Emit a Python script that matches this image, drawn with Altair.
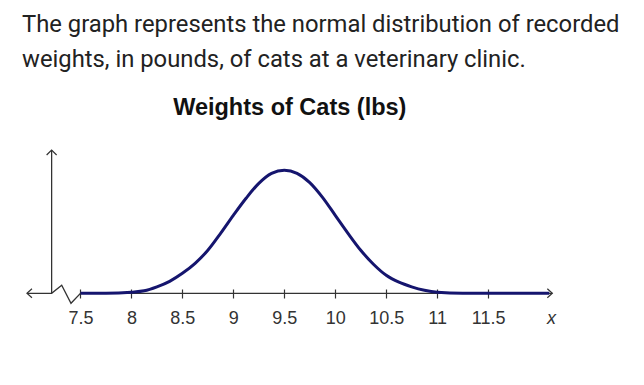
import altair as alt
import pandas as pd

# ---- data ----
intro_lines = [
    "The graph represents the normal distribution of recorded",
    "weights, in pounds, of cats at a veterinary clinic.",
]
chart_title = "Weights of Cats (lbs)"
tick_values = [7.5, 8, 8.5, 9, 9.5, 10, 10.5, 11, 11.5]

weights = [7.5, 7.75, 8.0, 8.125, 8.25, 8.375, 8.5, 8.625, 8.75, 8.875, 9.0,
           9.125, 9.25, 9.375, 9.5, 9.625, 9.75, 9.875, 10.0, 10.125, 10.25,
           10.375, 10.5, 10.625, 10.75, 10.875, 11.0, 11.25, 11.5, 11.75, 12.1]
density = [0.0, 0.0, 0.007, 0.016, 0.042, 0.078, 0.13, 0.195, 0.28, 0.39, 0.507,
           0.618, 0.715, 0.78, 0.8, 0.78, 0.72, 0.624, 0.507, 0.39, 0.28,
           0.189, 0.117, 0.072, 0.042, 0.02, 0.007, 0.0, 0.0, 0.0, 0.0]

# axis line with the break (zig-zag) near the origin
axis_x = [6.975, 7.217, 7.316, 7.407, 7.5, 12.13]
axis_y = [0.0, 0.0, 0.052, -0.065, 0.0, 0.0]
y_axis_x = 7.217
y_axis_top = 0.932

curve_df = pd.DataFrame({"x": weights, "y": density})
axis_df = pd.DataFrame({"x": axis_x, "y": axis_y, "i": list(range(len(axis_x)))})
yaxis_df = pd.DataFrame({"x": [y_axis_x], "y": [0.0], "y2": [y_axis_top]})
arrows_df = pd.DataFrame({
    "x": [axis_x[0], axis_x[-1], y_axis_x],
    "y": [0.0, 0.0, y_axis_top],
    "dir": ["left", "right", "up"],
})
dummy = pd.DataFrame({"a": [0]})

W, H = 628, 369
NAVY = "#15156e"
AX = "#333333"

xscale = alt.Scale(domain=[6.789, 12.951], nice=False, zero=False)
yscale = alt.Scale(domain=[-0.5444, 1.8556], nice=False, zero=False)
xaxis = alt.Axis(
    values=tick_values, format=".1~f", offset=-88, domain=False, grid=False,
    tickSize=9, tickColor=AX, tickWidth=1.2, labelPadding=11,
    labelFont="Liberation Sans", labelFontSize=18, labelColor=AX,
    title="x", titleFont="Liberation Sans", titleFontSize=18,
    titleFontWeight="normal", titleFontStyle="italic", titleColor=AX,
    titleX=543, titleY=34, titleAlign="center", titleBaseline="alphabetic",
)


def X(field="x"):
    return alt.X(field, type="quantitative", scale=xscale, axis=xaxis)


def Y(field="y"):
    return alt.Y(field, type="quantitative", scale=yscale, axis=None)


axis_line = alt.Chart(axis_df).mark_line(color=AX, strokeWidth=1.3).encode(
    x=X(), y=Y(), order="i:O"
)
y_axis = alt.Chart(yaxis_df).mark_rule(color=AX, strokeWidth=1.3).encode(
    x=X(), y=Y(), y2="y2"
)
left_arrow = alt.Chart(arrows_df[arrows_df.dir == "left"]).mark_point(
    shape="M 1 -0.9 L 0 0 L 1 0.9", filled=False, size=100, color=AX, strokeWidth=1.2, opacity=1
).encode(x=X(), y=Y())
right_arrow = alt.Chart(arrows_df[arrows_df.dir == "right"]).mark_point(
    shape="M -1 -0.9 L 0 0 L -1 0.9", filled=False, size=100, color=AX, strokeWidth=1.2, opacity=1
).encode(x=X(), y=Y())
up_arrow = alt.Chart(arrows_df[arrows_df.dir == "up"]).mark_point(
    shape="M -1 1 L 0 0 L 1 1", filled=False, size=100, color=AX, strokeWidth=1.2, opacity=1
).encode(x=X(), y=Y())

curve = alt.Chart(curve_df).mark_line(
    color=NAVY, strokeWidth=3, interpolate="monotone"
).encode(x=X(), y=Y())

intro = alt.Chart(dummy).mark_text(
    text=intro_lines, align="left", baseline="alphabetic", font="Roboto",
    fontSize=23.8, lineHeight=34.5, color="#222222"
).encode(x=alt.value(14), y=alt.value(24))

title = alt.Chart(dummy).mark_text(
    text=chart_title, align="center", baseline="alphabetic", font="Liberation Sans",
    fontSize=23.5, fontWeight="bold", color="#111111"
).encode(x=alt.value(281.8), y=alt.value(106.7))

chart = alt.layer(
    axis_line, y_axis, left_arrow, right_arrow, up_arrow, curve, intro, title
).properties(
    width=W, height=H, autosize=alt.AutoSizeParams(type="none"), padding=0,
    background="white"
).configure_view(stroke=None)

chart.save("out.html", embed_options={"renderer": "svg", "actions": False})
